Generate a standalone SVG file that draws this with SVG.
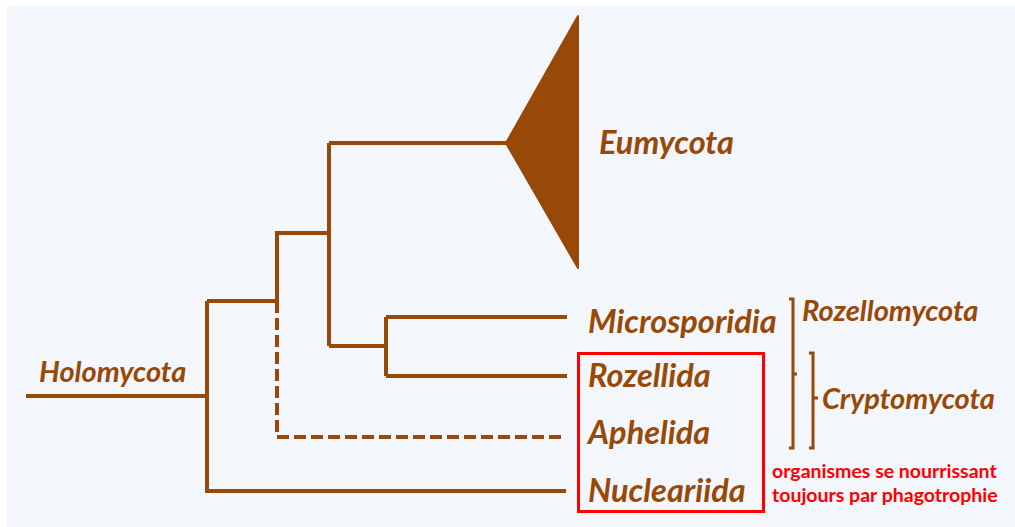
<svg xmlns="http://www.w3.org/2000/svg" width="1015" height="527" viewBox="0 0 1015 527">
<style>
.br{fill:none;stroke:#984807;stroke-width:4;stroke-linejoin:miter;stroke-linecap:butt}
.dash{stroke-dasharray:12 5}
.brk{fill:none;stroke:#984807;stroke-width:3}
.lab{font-family:Lato,"Liberation Sans",sans-serif;font-weight:bold;font-style:italic;fill:#984807}
.big{font-size:32.5px}
.mid{font-size:29px}
.note{font-family:Lato,"Liberation Sans",sans-serif;font-weight:bold;font-size:19.5px;fill:#FF0000}
</style>
<rect x="7" y="6" width="1008" height="521" fill="#F3F6FA"/>
<g id="connectors">
<path class="br" d="M26 396H207M207 301V491H566M207 301H277M277 301V233H329M329 143V346M329 143H507M329 346H386M386 317V376M386 317H567M386 376H567"/>
<path class="br dash" d="M277 301V437H566"/>
</g>
<g id="eumycota">
<polygon points="506,143 578,16 578,268" fill="#984807" stroke="#984807" stroke-width="2" stroke-linejoin="round"/>
<text class="lab big" x="599" y="154">Eumycota</text>
</g>
<g id="holomycota"><text class="lab mid" x="39" y="382">Holomycota</text></g>
<g id="microsporidia"><text class="lab big" x="588" y="333">Microsporidia</text></g>
<g id="rozellida"><text class="lab big" x="588" y="387">Rozellida</text></g>
<g id="aphelida"><text class="lab big" x="588" y="444">Aphelida</text></g>
<g id="nucleariida"><text class="lab big" x="588" y="502">Nucleariida</text></g>
<g id="phagotrophy-box">
<rect x="578.5" y="353.5" width="185" height="158" fill="none" stroke="#FF0000" stroke-width="3"/>
<text class="note" x="772" y="478">organismes se nourrissant</text>
<text class="note" x="772" y="502">toujours par phagotrophie</text>
</g>
<g id="rozellomycota">
<path class="brk" d="M789 299H793V448H789M793 374H797"/>
<text class="lab mid" x="802" y="321">Rozellomycota</text>
</g>
<g id="cryptomycota">
<path class="brk" d="M809 353H813V448H809M813 398H818"/>
<text class="lab mid" x="822" y="409">Cryptomycota</text>
</g>
</svg>
